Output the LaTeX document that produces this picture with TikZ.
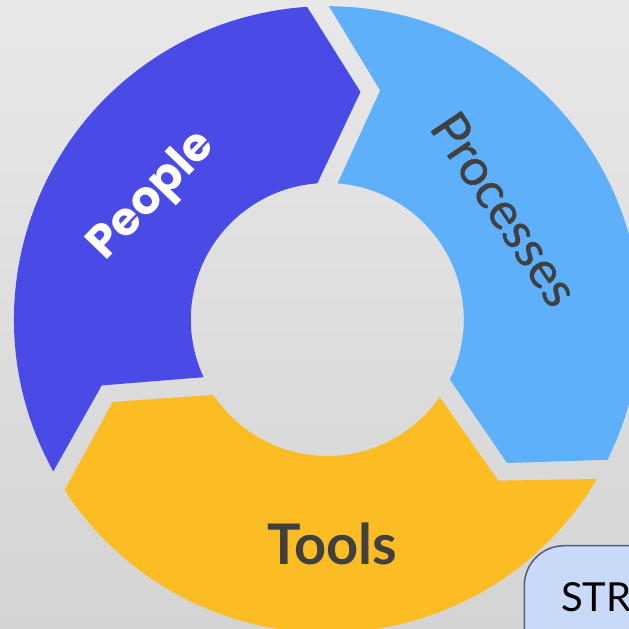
\documentclass[tikz,border=0pt]{standalone}
\usepackage{fontspec}
\newfontfamily\latofont{Lato}
\newfontfamily\latomed{Lato}[FakeBold=0.7]
\newfontfamily\popfont{Poppins}
\definecolor{peoplecol}{RGB}{74,75,230}
\definecolor{processcol}{RGB}{94,176,251}
\definecolor{toolscol}{RGB}{252,189,36}
\definecolor{txtgray}{RGB}{64,64,64}
\definecolor{bgtop}{RGB}{232,232,232}
\definecolor{bgbot}{RGB}{212,212,212}
\definecolor{boxfill}{RGB}{201,218,248}
\definecolor{boxline}{RGB}{80,95,115}
\def\Rout{313.3bp}
\def\Rin{136.5bp}
\def\Rtip{230bp}
\def\Rnotch{235bp}
\begin{document}
\begin{tikzpicture}[x=1bp,y=1bp]
\useasboundingbox (0,0) rectangle (629,629);
\clip (0,0) rectangle (629,629);
\shade[top color=bgtop, bottom color=bgbot] (0,0) rectangle (629,629);
\begin{scope}[shift={(327.3,309.5)}]
% People
\fill[peoplecol] (209:\Rout) arc[start angle=209,end angle=93.7,radius=\Rout]
  -- (81.7:\Rtip) -- (94.2:\Rin) arc[start angle=94.2,end angle=205,radius=\Rin]
  -- (196.3:\Rnotch) -- cycle;
% Processes
\fill[processcol] (89.7:\Rout) arc[start angle=89.7,end angle=-26.6,radius=\Rout]
  -- (-38.6:\Rtip) -- (-26.1:\Rin) arc[start angle=-26.1,end angle=85.7,radius=\Rin]
  -- (77:\Rnotch) -- cycle;
% Tools
\fill[toolscol] (-30.6:\Rout) arc[start angle=-30.6,end angle=-147,radius=\Rout]
  -- (-159:\Rtip) -- (-146.5:\Rin) arc[start angle=-146.5,end angle=-34.6,radius=\Rin]
  -- (-43.3:\Rnotch) -- cycle;
\end{scope}
\node[rotate=46, text=white, font=\popfont\bfseries\fontsize{46bp}{55bp}\selectfont] (people) at (153,432) {People};
\node[rotate=-56, text=txtgray, font=\latomed\fontsize{51bp}{61bp}\selectfont] (processes) at (505,420) {Processes};
\node[anchor=base, text=txtgray, font=\latofont\bfseries\fontsize{56bp}{66bp}\selectfont] (tools) at (332,64.5) {Tools};
\draw[fill=boxfill, draw=boxline, line width=1.5bp, rounded corners=40bp] (524.3,83.3) rectangle (720,-60);
\node[anchor=base west, inner sep=0pt, text=black, font=\latofont\fontsize{40bp}{48bp}\selectfont] (str) at (561,17.3) {STR};
\end{tikzpicture}
\end{document}
